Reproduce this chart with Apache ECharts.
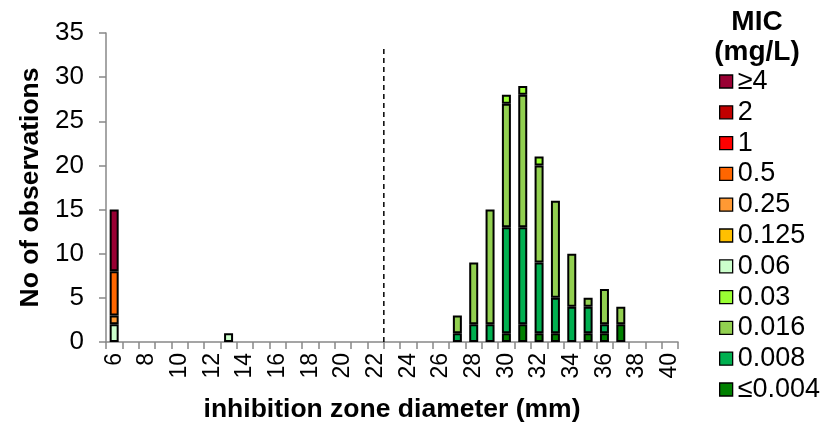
<!DOCTYPE html>
<html>
<head>
<meta charset="utf-8">
<script src="https://cdn.jsdelivr.net/npm/echarts@6/dist/echarts.min.js"></script>
<style>html,body{margin:0;padding:0;background:#fff}#c{width:837px;height:448px}</style>
</head>
<body>
<div id="c"></div>
<script>
// inhibition zone diameters (mm)
const diameters = [6,7,8,9,10,11,12,13,14,15,16,17,18,19,20,21,22,23,24,25,26,27,28,29,30,31,32,33,34,35,36,37,38,39,40];
const yTicks = [0,5,10,15,20,25,30,35];
// MIC classes, bottom of stack first
const micNames  = ['≤0.004','0.008','0.016','0.03','0.06','0.125','0.25','0.5','1','2','≥4'];
const micColors = ['#008000','#00B050','#92D050','#99FF33','#CCFFCC','#FFC000','#FF9933','#FF6600','#FF0000','#C00000','#990033'];
//                6 7 8 9 10 1 2 3 4 5 6 7 8 9 20 1 2 3 4 5 6 7 8 9  30 31 32 33 34 35 36 37 38 39 40
const le004  = [0,0,0,0,0,0,0,0,0,0,0,0,0,0,0,0,0,0,0,0,0,0,0,0, 1, 2, 1, 1, 0, 1, 1, 2, 0, 0, 0];
const v008   = [0,0,0,0,0,0,0,0,0,0,0,0,0,0,0,0,0,0,0,0,0,1,2,2,12,11, 8, 4, 4, 3, 1, 0, 0, 0, 0];
const v016   = [0,0,0,0,0,0,0,0,0,0,0,0,0,0,0,0,0,0,0,0,0,2,7,13,14,15,11,11, 6, 1, 4, 2, 0, 0, 0];
const v03    = [0,0,0,0,0,0,0,0,0,0,0,0,0,0,0,0,0,0,0,0,0,0,0,0, 1, 1, 1, 0, 0, 0, 0, 0, 0, 0, 0];
const v06    = [2,0,0,0,0,0,0,1,0,0,0,0,0,0,0,0,0,0,0,0,0,0,0,0, 0, 0, 0, 0, 0, 0, 0, 0, 0, 0, 0];
const v125   = [0,0,0,0,0,0,0,0,0,0,0,0,0,0,0,0,0,0,0,0,0,0,0,0, 0, 0, 0, 0, 0, 0, 0, 0, 0, 0, 0];
const v25    = [1,0,0,0,0,0,0,0,0,0,0,0,0,0,0,0,0,0,0,0,0,0,0,0, 0, 0, 0, 0, 0, 0, 0, 0, 0, 0, 0];
const v5     = [5,0,0,0,0,0,0,0,0,0,0,0,0,0,0,0,0,0,0,0,0,0,0,0, 0, 0, 0, 0, 0, 0, 0, 0, 0, 0, 0];
const v1     = [0,0,0,0,0,0,0,0,0,0,0,0,0,0,0,0,0,0,0,0,0,0,0,0, 0, 0, 0, 0, 0, 0, 0, 0, 0, 0, 0];
const v2     = [0,0,0,0,0,0,0,0,0,0,0,0,0,0,0,0,0,0,0,0,0,0,0,0, 0, 0, 0, 0, 0, 0, 0, 0, 0, 0, 0];
const ge4    = [7,0,0,0,0,0,0,0,0,0,0,0,0,0,0,0,0,0,0,0,0,0,0,0, 0, 0, 0, 0, 0, 0, 0, 0, 0, 0, 0];
const micValues = [le004, v008, v016, v03, v06, v125, v25, v5, v1, v2, ge4];
// breakpoint dashed line
const cutoffX = 22.5;
const cutoffTop = 33.6;

const FONT = 'Liberation Sans, Arial, sans-serif';
const chart = echarts.init(document.getElementById('c'), null, {renderer: 'canvas'});

const barSeries = micNames.map((name, i) => ({
  name: name,
  type: 'bar',
  stack: 'mic',
  xAxisIndex: 0,
  barWidth: 9,
  itemStyle: {color: micColors[i], borderColor: '#000', borderWidth: 2},
  data: micValues[i].map(v => v === 0 ? '-' : v)
}));

chart.setOption({
  animation: false,
  textStyle: {fontFamily: FONT},
  title: {
    text: 'MIC\n(mg/L)',
    left: 752, top: 2, textAlign: 'center',
    textStyle: {fontFamily: FONT, fontSize: 28, fontWeight: 'bold', lineHeight: 30, color: '#000'}
  },
  legend: {
    orient: 'vertical',
    left: 719, top: 68,
    padding: 0,
    itemWidth: 13, itemHeight: 13, itemGap: 3.8,
    icon: 'rect',
    data: micNames.slice().reverse(),
    itemStyle: {borderColor: '#000', borderWidth: 1.3},
    textStyle: {fontFamily: FONT, fontSize: 27, color: '#000'}
  },
  grid: {left: 106, right: 159, top: 33, bottom: 106, containLabel: false},
  xAxis: [{
    type: 'category',
    data: diameters,
    boundaryGap: true,
    name: 'inhibition zone diameter (mm)',
    nameLocation: 'middle',
    nameGap: 54,
    nameTextStyle: {fontFamily: FONT, fontSize: 26.5, fontWeight: 'bold', color: '#000'},
    axisLine: {lineStyle: {color: '#888', width: 1.5}},
    axisTick: {show: true, interval: 0, length: 7, lineStyle: {color: '#888', width: 1.5}},
    axisLabel: {interval: 1, rotate: 90, margin: 11, fontSize: 23, color: '#000', fontFamily: FONT},
    splitLine: {show: false}
  }, {
    type: 'value', min: 5.5, max: 40.5, show: false
  }],
  yAxis: {
    type: 'value', min: yTicks[0], max: yTicks[yTicks.length - 1], interval: 5,
    name: 'No of observations',
    nameLocation: 'middle',
    nameGap: 60,
    nameTextStyle: {fontFamily: FONT, fontSize: 26.5, fontWeight: 'bold', color: '#000'},
    axisLine: {show: true, lineStyle: {color: '#888', width: 1.5}},
    axisTick: {show: true, length: 7, lineStyle: {color: '#888', width: 1.5}},
    axisLabel: {margin: 22, fontSize: 26, color: '#000', fontFamily: FONT},
    splitLine: {show: false}
  },
  series: barSeries.concat([{
    name: 'breakpoint',
    type: 'line',
    xAxisIndex: 1,
    symbol: 'none',
    silent: true,
    lineStyle: {color: '#000', width: 1.5, type: [5, 4]},
    data: [[cutoffX, 0], [cutoffX, cutoffTop]]
  }])
});
</script>
</body>
</html>
